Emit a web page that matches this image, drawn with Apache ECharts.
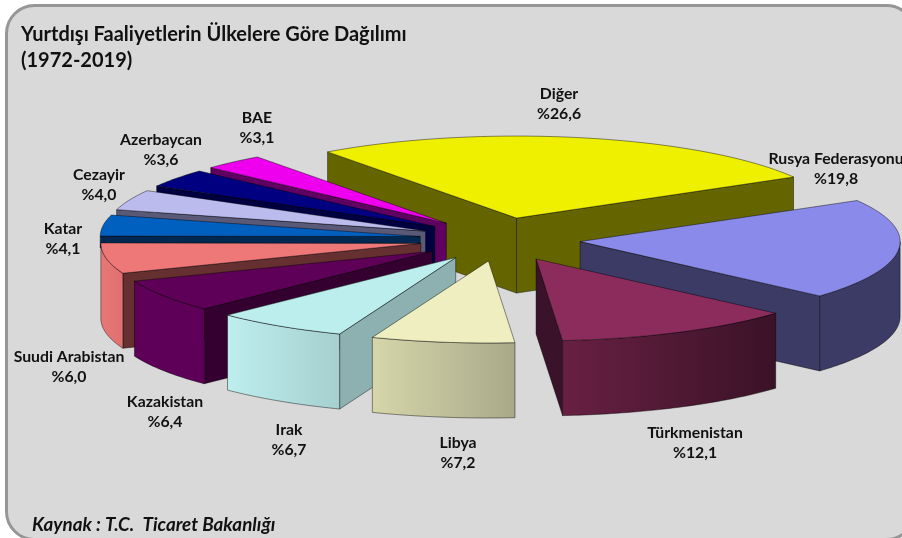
<!DOCTYPE html>
<html><head><meta charset="utf-8">
<style>html,body{margin:0;padding:0;background:#fff}#c{width:902px;height:538px}</style>
<script src="https://cdn.jsdelivr.net/npm/echarts@6/dist/echarts.min.js"></script>
</head><body><div id="c"></div>
<script>
// Data
const categories = ['Diğer','Rusya Federasyonu','Türkmenistan','Libya','Irak','Kazakistan','Suudi Arabistan','Katar','Cezayir','Azerbaycan','BAE'];
const shares = [26.6,19.8,12.1,7.2,6.7,6.4,6.0,4.1,4.0,3.6,3.1];
const shareLabels = ['%26,6','%19,8','%12,1','%7,2','%6,7','%6,4','%6,0','%4,1','%4,0','%3,6','%3,1'];

// Styles
const topColors = ['#EFEF00','#8A8AEA','#8B2C5C','#EEEEC0','#BCEEEE','#5F0058','#EE7777','#0060C0','#BBBBEE','#000080','#EE00EE'];
const sideColors = ['#656500','#3B3B66','#3A132A','#8A8A70','#8DB0B0','#33002F','#663030','#002850','#5A5A78','#000040','#600060'];
const rimFrom = ['#656500','#3B3B66','#682042','#D6D6AA','#BEEEEE','#5F0058','#E87878','#0060C0','#BBBBEE','#000080','#EE00EE'];
const rimTo   = ['#656500','#3B3B66','#3A1228','#A9A98A','#A6CFCF','#5F0058','#E07070','#0060C0','#BBBBEE','#000080','#EE00EE'];

// Pie geometry (projected ellipse)
const CX = 500, CY = 239.4, RX = 320, RY = 82, EX = 80.5, EY = 21.8, DEPTH = 75, START_DEG = -36.2;
// Label centres
const labelAnchors = [[559,104],[836,169],[695,443],[458,453],[289,440],[165,412],[69,367],[63,239],[99,185],[161,150],[257,128]];

const total = shares.reduce((a,b)=>a+b,0);
const rad = d => d*Math.PI/180;
let acc = START_DEG;
const slices = shares.map(v => { const s = acc; acc += v/total*360; return {s, e: acc, m:(s+acc)/2}; });
const drawOrder = shares.map((_,i)=>i).sort((a,b)=>Math.cos(rad(slices[b].m))-Math.cos(rad(slices[a].m)));

function slicePolys(i){
  const {s,e,m} = slices[i];
  const ax = CX + EX*Math.sin(rad(m)), ay = CY - EY*Math.cos(rad(m));
  const pt = d => [ax + RX*Math.sin(rad(d)), ay - RY*Math.cos(rad(d))];
  const drop = (p,h) => [p[0], p[1]+h];
  const down = p => drop(p,DEPTH);
  const stroke = {stroke:'rgba(0,0,0,0.55)', lineWidth:0.8};
  const out = [];
  const arc = (a,b) => { const n = Math.max(2,Math.ceil(Math.abs(b-a))); const r=[]; for(let k=0;k<=n;k++) r.push(pt(a+(b-a)*k/n)); return r; };
  const apex = [ax,ay];
  // radial faces; a face almost edge-on at the far left only shows as a thin band above its neighbour
  if (Math.sin(rad(s)) < 0) {
    const h = Math.abs(s-270) < 5 ? 12 : DEPTH;
    out.push({type:'polygon',shape:{points:[apex,pt(s),drop(pt(s),h),drop(apex,h)]},style:{fill:sideColors[i],...stroke}});
  }
  if (Math.sin(rad(e)) > 0) out.push({type:'polygon',shape:{points:[apex,pt(e),down(pt(e)),down(apex)]},style:{fill:sideColors[i],...stroke}});
  // outer rim: the part facing the viewer
  for (const [lo,hi] of [[90,270],[450,630],[-270,-90]]) {
    const a = Math.max(s,lo), b = Math.min(e,hi);
    if (b > a) {
      const r = arc(a,b);
      const fill = new echarts.graphic.LinearGradient(0,0,1,0,[{offset:0,color:rimFrom[i]},{offset:1,color:rimTo[i]}]);
      out.push({type:'polygon',shape:{points:r.concat(r.slice().reverse().map(down))},style:{fill,...stroke}});
    }
  }
  // top face
  out.push({type:'polygon',shape:{points:[apex].concat(arc(s,e))},style:{fill:topColors[i],...stroke}});
  return out;
}

const chart = echarts.init(document.getElementById('c'),null,{renderer:'canvas'});
chart.setOption({
  animation:false,
  backgroundColor:'#ffffff',
  title:[
    {text:'Yurtdışı Faaliyetlerin Ülkelere Göre Dağılımı\n(1972-2019)',left:21,top:22,padding:0,
     textStyle:{fontFamily:'Lato',fontWeight:'bold',fontSize:20,lineHeight:26,color:'#111'}},
    {text:'Kaynak : T.C.  Ticaret Bakanlığı',left:32,top:515,padding:0,
     textStyle:{fontFamily:'Lato',fontWeight:'bold',fontStyle:'italic',fontSize:18.8,color:'#111'}}
  ],
  graphic:[
    {type:'rect',z:-10,silent:true,shape:{x:6.5,y:5.5,width:908,height:534,r:28},
     style:{fill:'#D9D9D9',stroke:'#969696',lineWidth:3}}
  ],
  series:[
    {type:'custom',coordinateSystem:'none',silent:true,z:2,
     data:drawOrder.map(i=>({value:[shares[i]],name:categories[i]})),
     renderItem:(p)=>({type:'group',children:slicePolys(drawOrder[p.dataIndex])})},
    {type:'custom',coordinateSystem:'none',silent:true,z:5,
     data:categories.map((c,i)=>({value:[shares[i]],name:c})),
     renderItem:(p)=>{const i=p.dataIndex;return {type:'text',style:{
        x:labelAnchors[i][0],y:labelAnchors[i][1],text:categories[i]+'\n'+shareLabels[i],
        fill:'#111',fontFamily:'Lato',fontWeight:'bold',fontSize:15.8,lineHeight:20,align:'center',verticalAlign:'middle'}};}}
  ]
});
</script></body></html>
